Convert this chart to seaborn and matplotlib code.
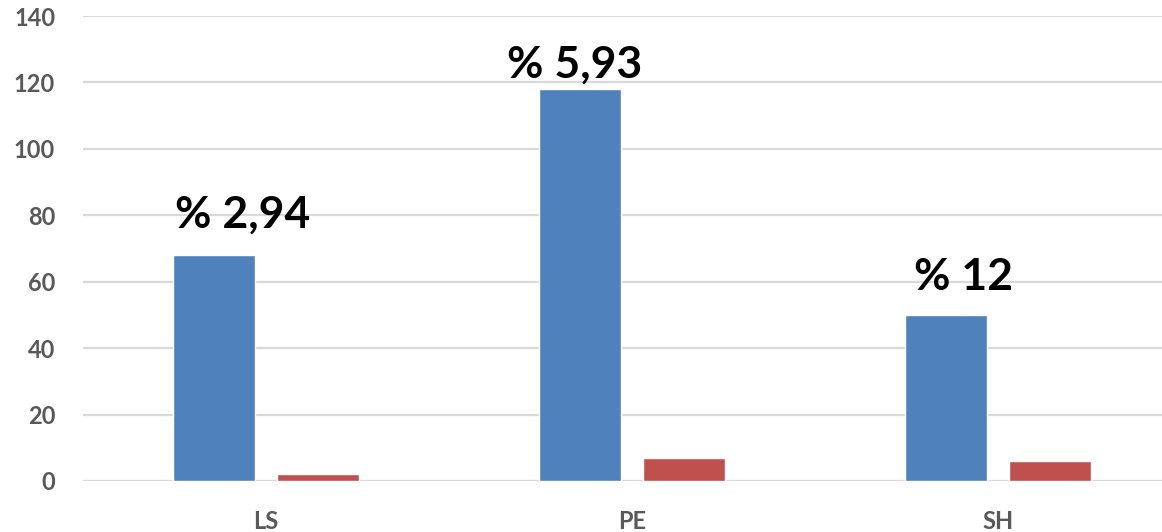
import numpy as np
import pandas as pd
import matplotlib
matplotlib.use("Agg")
import matplotlib.pyplot as plt
import seaborn as sns

# Data
categories = ["LS", "PE", "SH"]
total_values = [68, 118, 50]
subset_values = [2, 7, 6]
series_names = ["Total", "Subset"]
y_ticks = [0, 20, 40, 60, 80, 100, 120, 140]

df = pd.DataFrame({
    "category": categories * 2,
    "value": total_values + subset_values,
    "series": [series_names[0]] * 3 + [series_names[1]] * 3,
})

sns.set_theme(style="white")
plt.rcParams["font.family"] = ["Lato", "DejaVu Sans"]
plt.rcParams["font.weight"] = "bold"

fig = plt.figure(figsize=(11.62, 5.32), dpi=100)
ax = fig.add_axes([83 / 1162, 51 / 532, 1098 / 1162, 465 / 532])

sns.barplot(
    data=df, x="category", y="value", hue="series",
    palette=["#4f81bd", "#c0504d"], width=0.568, gap=0.211,
    legend=False, ax=ax, saturation=1, zorder=3,
)

ax.set_xlim(-0.5, 2.5)
ax.set_ylim(0, 140)
ax.set_yticks(y_ticks)
ax.yaxis.grid(True, color="#d9d9d9", linewidth=1.6, zorder=0)
ax.set_axisbelow(True)
for s in ax.spines.values():
    s.set_visible(False)
ax.set_xlabel("")
ax.set_ylabel("")
ax.tick_params(axis="y", length=0, pad=20, labelsize=17, labelcolor="#595959")
ax.tick_params(axis="x", length=0, pad=21, labelsize=17, labelcolor="#595959")

# Share of the subset in each total, written above the blue bars
label_dx = [0.079, -0.016, 0.049]
label_dy = [8.2, 3.4, 7.5]
bar_offset = -0.142
for i, (t, s) in enumerate(zip(total_values, subset_values)):
    pct = s / t * 100
    txt = f"{pct:.2f}".rstrip("0").rstrip(".").replace(".", ",")
    ax.text(i + bar_offset + label_dx[i], t + label_dy[i], f"% {txt}",
            ha="center", va="baseline", fontsize=32, fontweight="bold",
            color="black", zorder=4)

fig.savefig("out.png", dpi=100)
